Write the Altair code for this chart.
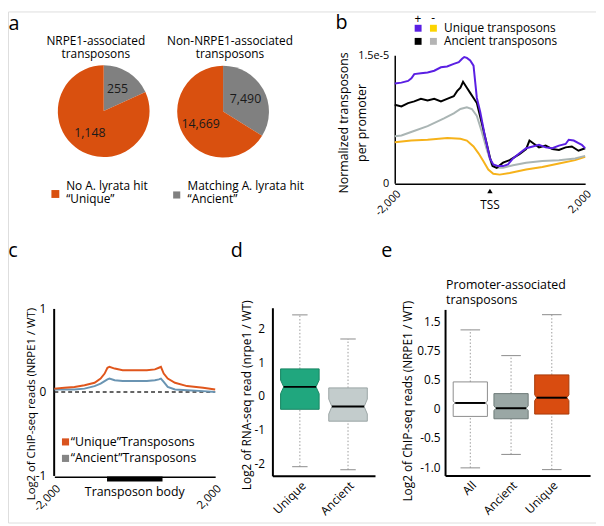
import altair as alt
import pandas as pd

FONT = "Open Sans"
MARGIN = 8
W, H = 596, 518


def P(v):
    return v - MARGIN


# ---------------- data ----------------
# panel a
pie_classes = ["Ancient", "Unique"]
pie_nrpe1 = [255, 1148]
pie_non_nrpe1 = [7490, 14669]
pie_title_1 = ["NRPE1-associated", "transposons"]
pie_title_2 = ["Non-NRPE1-associated", "transposons"]
legend_a_unique = ["No A. lyrata hit", "“Unique”"]
legend_a_ancient = ["Matching A. lyrata hit", " “Ancient”"]

# panel b (normalized transposons per promoter, x in bp from TSS)
b_series = ["Unique -", "Ancient -", "Ancient +", "Unique +"]
b_x_unique_plus = [-2000, -1860, -1720, -1650, -1590, -1450, -1310, -1170, -1030, -900, -760, -655, -585,
                   -540, -485, -415, -345, -275, -205, -105, 0, 70, 170, 275, 380, 485, 620, 760, 900,
                   1030, 1170, 1310, 1450, 1590, 1655, 1760, 1860, 1930, 2000]
b_y_unique_plus = [1.17, 1.18, 1.20, 1.23, 1.28, 1.29, 1.30, 1.32, 1.36, 1.37, 1.40, 1.42, 1.46,
                   1.48, 1.47, 1.44, 1.38, 1.00, 0.84, 0.55, 0.29, 0.22, 0.20, 0.20, 0.22, 0.29, 0.35, 0.41, 0.43,
                   0.45, 0.42, 0.41, 0.44, 0.46, 0.51, 0.50, 0.47, 0.45, 0.41]
b_x_ancient_plus = [-2000, -1860, -1720, -1590, -1450, -1310, -1170, -1030, -900, -760, -690, -620, -565,
                    -485, -415, -345, -275, -170, -70, 0, 55, 140, 275, 415, 620, 760, 830, 930, 1030,
                    1170, 1310, 1450, 1590, 1720, 1860, 2000]
b_y_ancient_plus = [0.92, 0.90, 0.94, 0.96, 0.99, 0.97, 0.99, 0.96, 0.99, 1.02, 1.08, 1.12, 1.19,
                    1.12, 1.06, 1.00, 0.94, 0.70, 0.47, 0.30, 0.20, 0.18, 0.24, 0.27, 0.34, 0.40, 0.50, 0.46, 0.42,
                    0.44, 0.40, 0.39, 0.42, 0.43, 0.38, 0.41]
b_x_ancient_minus = [-2000, -1860, -1655, -1310, -965, -760, -620, -485, -380, -275, -170, -70, 35, 140,
                     275, 485, 760, 1100, 1450, 1790, 2000]
b_y_ancient_minus = [0.55, 0.56, 0.60, 0.67, 0.76, 0.82, 0.87, 0.89, 0.87, 0.79, 0.60, 0.40, 0.22, 0.18,
                     0.18, 0.21, 0.24, 0.26, 0.27, 0.29, 0.32]
b_x_unique_minus = [-2000, -1655, -1310, -895, -620, -485, -345, -240, -140, -35, 70, 205, 415, 760,
                    1100, 1450, 1790, 2000]
b_y_unique_minus = [0.48, 0.50, 0.51, 0.53, 0.52, 0.50, 0.43, 0.35, 0.26, 0.16, 0.11, 0.10, 0.12, 0.16,
                    0.19, 0.23, 0.27, 0.31]
b_unit = 1e-5
b_ytick_values = [0, 1.5e-5]
b_ytick_labels = ["0", "1.5e-5"]
b_xtick_values = [-2000, 2000]
b_xtick_labels = ["-2,000", "2,000"]
b_legend_rows = ["Unique transposons", "Ancient transposons"]
b_legend_signs = ["+", "-"]

# panel c (log2 ChIP-seq ratio along metagene)
c_x = [-2000, -1750, -1500, -1250, -1000, -850, -750, -680, -630, -500, -300, 0, 300, 500, 600, 650,
       720, 820, 1000, 1300, 1700, 2000]
c_unique = [0.04, 0.05, 0.06, 0.08, 0.11, 0.16, 0.22, 0.29, 0.30, 0.28, 0.26, 0.26, 0.26, 0.27, 0.29, 0.30,
            0.22, 0.16, 0.11, 0.07, 0.05, 0.03]
c_ancient = [0.03, 0.03, 0.03, 0.04, 0.07, 0.10, 0.13, 0.15, 0.16, 0.14, 0.13, 0.13, 0.13, 0.14, 0.15, 0.16,
             0.12, 0.06, 0.03, 0.02, 0.01, 0.0]
c_body = [-690, 690]
c_ytick_values = [-1, 0, 1]
c_ytick_labels = ["-1", "0", "1"]
c_xtick_values = [-2000, 2000]
c_xtick_labels = ["-2,000", "2,000"]
c_legend = ["“Unique”Transposons", "“Ancient”Transposons"]

# panel d (RNA-seq boxplots)
d_cats = ["Unique", "Ancient"]
d_wlo = [-2.08, -2.17]
d_q1 = [-0.39, -0.74]
d_med = [0.27, -0.31]
d_q3 = [0.80, 0.24]
d_whi = [2.39, 1.68]
d_notch = [0.20, 0.22]
d_ytick_values = [-2, -1, 0, 1, 2]
d_ytick_labels = ["-2", "-1", "0", "1", "2"]

# panel e (promoter-associated ChIP-seq boxplots)
e_cats = ["All", "Ancient", "Unique"]
e_wlo = [-1.01, -0.78, -1.04]
e_q1 = [-0.13, -0.17, -0.09]
e_med = [0.10, 0.01, 0.19]
e_q3 = [0.46, 0.26, 0.58]
e_whi = [1.35, 0.91, 1.61]
e_notch = [0.03, 0.04, 0.05]
e_ytick_values = [-1, -0.5, 0, 0.5, 1, 1.5]
e_ytick_labels = ["-1.0", "-0.5", "0", "0.5", "0.75", "1.5"]
e_title = ["Promoter-associated", "transposons"]

panel_letters = ["a", "b", "c", "d", "e"]

# ---------------- styles ----------------
ORANGE = "#d9500f"
GREY = "#808080"
b_line_colors = ["#f6b21a", "#aab5b4", "#000000", "#5a1fe3"]
b_legend_colors = [["#5a1fe3", "#fcd400"], ["#000000", "#b4b4b4"]]
c_colors = ["#e0561c", "#6a94b2"]
c_legend_colors = ["#d9531e", "#858585"]
d_fills = ["#20a77e", "#c3cccc"]
d_strokes = ["#178562", "#9aa5a5"]
e_fills = ["#ffffff", "#9aa7a5", "#d94c10"]
e_strokes = ["#8c8c8c", "#6e7b79", "#a83a08"]

ONE = pd.DataFrame({"k": [0]})
layers = []


def sc(domain, r0, r1):
    return alt.Scale(domain=domain, range=[P(r0), P(r1)], nice=False, zero=False)


def label_expr(values, labels):
    return " : ".join(f"datum.value == {v} ? '{l}'" for v, l in zip(values, labels)) + " : ''"


def yaxis(x_px, values, labels, pad=8, size=12, width=2.0):
    return alt.Axis(orient="left", offset=-P(x_px), values=values, labelExpr=label_expr(values, labels),
                    ticks=False, grid=False, domainColor="black", domainWidth=width, labelFont=FONT,
                    labelFontSize=size, labelColor="black", labelPadding=pad, labelFlush=False, title=None)


def xaxis(y_px, values, labels, pad=4, size=12, width=2.0):
    return alt.Axis(orient="bottom", offset=P(y_px) - H, values=values, labelExpr=label_expr(values, labels),
                    ticks=False, grid=False, domainColor="black", domainWidth=width, labelFont=FONT,
                    labelFontSize=size, labelColor="black", labelPadding=pad, labelFlush=False,
                    labelAngle=-45, labelAlign="right", labelBaseline="top", title=None)


def txt(text, x, y, size=12.5, align="left", angle=0, color="black", line_height=None, baseline="middle"):
    """For multi-line text, y is the position of the first line."""
    kw = dict(font=FONT, fontSize=size, align=align, baseline=baseline, color=color)
    if angle:
        kw["angle"] = angle
    if line_height:
        kw["lineHeight"] = line_height
    return alt.Chart(ONE).mark_text(**kw).encode(x=alt.value(P(x)), y=alt.value(P(y)), text=alt.value(text))


def square(x, y, color, size):
    return alt.Chart(ONE).mark_square(color=color, size=size, opacity=1).encode(
        x=alt.value(P(x)), y=alt.value(P(y)))


# ---------------- panel a ----------------
def pie(counts, cx, cy, r):
    df = pd.DataFrame({"cls": pie_classes, "count": counts, "ord": list(range(len(counts)))})
    base = alt.Chart(df).encode(theta=alt.Theta("count:Q", stack=True), order=alt.Order("ord:Q"),
                                x=alt.value(P(cx)), y=alt.value(P(cy)))
    arc = base.mark_arc(outerRadius=r).encode(
        color=alt.Color("cls:N", scale=alt.Scale(domain=pie_classes, range=[GREY, ORANGE]), legend=None))
    lab = base.mark_text(radius=r * 0.56, font=FONT, fontSize=12.5, color="#1a1a1a").encode(
        text=alt.Text("count:Q", format=","))
    return [arc, lab]


layers += pie(pie_nrpe1, 105, 109, 46.5)
layers += pie(pie_non_nrpe1, 226, 109.5, 46.5)
layers.append(txt(pie_title_1, 97, 38, size=12, align="center", line_height=12.8))
layers.append(txt(pie_title_2, 233, 38, size=12, align="center", line_height=12.8))
layers.append(square(56, 193, ORANGE, 64))
layers.append(txt(legend_a_unique, 67, 185, size=12, line_height=12.8))
layers.append(square(179, 194, GREY, 52))
layers.append(txt(legend_a_ancient, 190, 185, size=12, line_height=12.8))

# ---------------- panel b ----------------
bx = sc([-2000, 2000], 400, 593)
by = sc([0, 1.5e-5], 182, 52.5)
b_data = [(b_x_unique_minus, b_y_unique_minus), (b_x_ancient_minus, b_y_ancient_minus),
          (b_x_ancient_plus, b_y_ancient_plus), (b_x_unique_plus, b_y_unique_plus)]
for k, (xs_, ys_) in enumerate(b_data):
    df = pd.DataFrame({"bp": xs_, "v": [v * b_unit for v in ys_], "series": b_series[k]})
    first = k == 0
    layers.append(alt.Chart(df).mark_line(strokeWidth=2).encode(
        x=alt.X("bp:Q", scale=bx, axis=xaxis(182.7, b_xtick_values, b_xtick_labels, pad=4, size=11, width=1.5) if first else None),
        y=alt.Y("v:Q", scale=by, axis=yaxis(400, b_ytick_values, b_ytick_labels, pad=6, size=11, width=1.5) if first else None),
        color=alt.Color("series:N", scale=alt.Scale(domain=b_series, range=b_line_colors), legend=None)))

tss = pd.DataFrame({"bp": [0], "t": ["TSS"]})
layers.append(alt.Chart(tss).mark_point(shape="triangle-up", filled=True, size=30, color="black", opacity=1).encode(
    x=alt.X("bp:Q", scale=bx, axis=None), y=alt.value(P(190))))
layers.append(alt.Chart(tss).mark_text(font=FONT, fontSize=12, color="black").encode(
    x=alt.X("bp:Q", scale=bx, axis=None), y=alt.value(P(204)), text="t:N"))
layers.append(txt(["Normalized transposons", "per promoter"], 348.5, 121, align="center", angle=270,
                  line_height=18, size=12.5))
layers.append(txt(b_legend_signs[0], 423.5, 16, size=12, align="center"))
layers.append(txt(b_legend_signs[1], 439, 15, size=12, align="center"))
for r, row in enumerate(b_legend_rows):
    yy = 25 + r * 13.3
    layers.append(square(423.7, yy, b_legend_colors[r][0], 49))
    layers.append(square(439.2, yy, b_legend_colors[r][1], 49))
    layers.append(txt(row, 450, yy, size=12))

# ---------------- panel c ----------------
cx = sc([-2000, 2000], 55, 218)
cy = sc([-1, 1], 478.3, 309)
zero_df = pd.DataFrame({"x": [c_x[0]], "x2": [c_x[-1]], "y": [0]})
layers.append(alt.Chart(zero_df).mark_rule(strokeDash=[4, 3], strokeWidth=1.5, color="#333333").encode(
    x=alt.X("x:Q", scale=cx, axis=xaxis(479.5, c_xtick_values, c_xtick_labels, pad=6, size=11.5, width=1.5)),
    x2="x2:Q",
    y=alt.Y("y:Q", scale=cy, axis=yaxis(54.3, c_ytick_values, c_ytick_labels, pad=8, size=12, width=2))))
for name, vals, col in (("Ancient", c_ancient, c_colors[1]), ("Unique", c_unique, c_colors[0])):
    df = pd.DataFrame({"x": c_x, "v": vals})
    layers.append(alt.Chart(df).mark_line(strokeWidth=2, color=col).encode(
        x=alt.X("x:Q", scale=cx, axis=None), y=alt.Y("v:Q", scale=cy, axis=None)))
body_df = pd.DataFrame({"x": [c_body[0]], "x2": [c_body[1]], "mid": [sum(c_body) / 2], "t": ["Transposon body"]})
layers.append(alt.Chart(body_df).mark_rule(strokeWidth=5, color="black").encode(
    x=alt.X("x:Q", scale=cx, axis=None), x2="x2:Q", y=alt.value(P(481.8))))
layers.append(alt.Chart(body_df).mark_text(font=FONT, fontSize=12.5, color="black").encode(
    x=alt.X("mid:Q", scale=cx, axis=None), y=alt.value(P(495)), text="t:N"))
for r, lab in enumerate(c_legend):
    yy = 444.3 + r * 16.7
    layers.append(square(66.3, yy, c_legend_colors[r], 52))
    layers.append(txt(lab, 71.5, yy, size=12.5))
layers.append(txt("Log2 of ChIP-seq reads (NRPE1 / WT)", 32, 406, align="center", angle=270, size=11.5))


# ---------------- boxplots (d, e) ----------------
def boxes(cats, wlo, q1, med, q3, whi, notch, fills, strokes, xs, ys, hw, ind, cw, xax, yax):
    out = []
    rows = []
    for i, c in enumerate(cats):
        for yv, d in ((q1[i], 0), (med[i] - notch[i], 0), (med[i], ind), (med[i] + notch[i], 0), (q3[i], 0)):
            rows.append({"cat": c, "y": yv, "xl": i - hw + d, "xr": i + hw - d})
    shape = pd.DataFrame(rows)
    idx = list(range(len(cats)))
    st = pd.DataFrame({"cat": cats, "i": idx, "wlo": wlo, "q1": q1, "med": med, "q3": q3, "whi": whi,
                       "capl": [i - cw for i in idx], "capr": [i + cw for i in idx],
                       "ml": [i - hw + ind for i in idx], "mr": [i + hw - ind for i in idx]})
    base = alt.Chart(st)
    out.append(base.mark_rule(strokeDash=[1.5, 2], strokeWidth=1, color="#9a9a9a").encode(
        x=alt.X("i:Q", scale=xs, axis=xax), y=alt.Y("q3:Q", scale=ys, axis=yax), y2="whi:Q"))
    out.append(base.mark_rule(strokeDash=[1.5, 2], strokeWidth=1, color="#9a9a9a").encode(
        x=alt.X("i:Q", scale=xs, axis=None), y=alt.Y("wlo:Q", scale=ys, axis=None), y2="q1:Q"))
    for f in ("whi", "wlo"):
        out.append(base.mark_rule(strokeWidth=1, color="#8a8a8a").encode(
            x=alt.X("capl:Q", scale=xs, axis=None), x2="capr:Q", y=alt.Y(f"{f}:Q", scale=ys, axis=None)))
    out.append(alt.Chart(shape).mark_area(orient="horizontal", strokeWidth=1, opacity=1).encode(
        y=alt.Y("y:Q", scale=ys, axis=None),
        x=alt.X("xl:Q", scale=xs, axis=None), x2="xr:Q",
        color=alt.Color("cat:N", scale=alt.Scale(domain=cats, range=fills), legend=None),
        stroke=alt.Stroke("cat:N", scale=alt.Scale(domain=cats, range=strokes), legend=None),
        detail="cat:N"))
    out.append(base.mark_rule(strokeWidth=2, color="black").encode(
        x=alt.X("ml:Q", scale=xs, axis=None), x2="mr:Q", y=alt.Y("med:Q", scale=ys, axis=None)))
    return out


dxs = sc([-0.57, 1.56], 276, 380)
dys = sc([-2.35, 2.6], 478.7, 308.3)
layers += boxes(d_cats, d_wlo, d_q1, d_med, d_q3, d_whi, d_notch, d_fills, d_strokes, dxs, dys,
                0.4, 0.065, 0.16,
                xaxis(478.7, list(range(len(d_cats))), d_cats, pad=4, size=12, width=2),
                yaxis(276, d_ytick_values, d_ytick_labels, pad=8, size=12, width=2))
layers.append(txt("Log2 of RNA-seq read (nrpe1 / WT)", 250, 397, align="center", angle=270, size=12))

exs = sc([-0.62, 2.94], 451, 598)
eys = sc([-1.14, 1.7], 478.3, 310)
layers += boxes(e_cats, e_wlo, e_q1, e_med, e_q3, e_whi, e_notch, e_fills, e_strokes, exs, eys,
                0.42, 0.05, 0.24,
                xaxis(478.3, list(range(len(e_cats))), e_cats, pad=4, size=12, width=2),
                yaxis(451, e_ytick_values, e_ytick_labels, pad=5, size=12, width=2))
layers.append(txt("Log2 of ChIP-seq reads (NRPE1 / WT)", 413.3, 403, align="center", angle=270, size=12))
layers.append(txt(e_title, 452, 285, size=12.5, line_height=15.7))

# ---------------- panel letters (alphabetic baseline) ----------------
letter_pos = [(14, 27), (346, 26), (13, 257), (240, 257), (392, 257)]
for letter, (lx, ly) in zip(panel_letters, letter_pos):
    layers.append(txt(letter, lx, ly, size=20, align="center", baseline="alphabetic"))

chart = alt.layer(*layers).resolve_scale(
    x="independent", y="independent", color="independent", stroke="independent", theta="independent"
).resolve_axis(x="independent", y="independent").properties(
    width=W, height=H, padding=0, autosize=alt.AutoSizeParams(type="none")
).configure_view(stroke=None).configure(font=FONT)

chart.save("out.html", embed_options={"renderer": "svg", "actions": False})
